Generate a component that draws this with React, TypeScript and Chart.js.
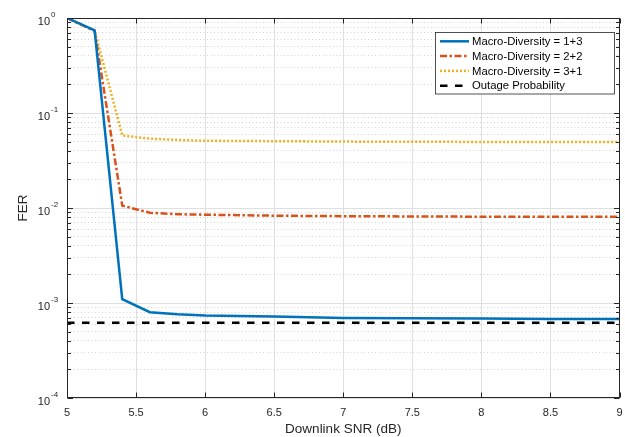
import React, { useEffect, useRef } from 'react';
import { Chart, registerables } from 'chart.js';

Chart.register(...registerables);

// ---- data ----
const SNR_DB = [5, 5.2, 5.4, 5.6, 5.8, 6, 6.5, 7, 7.5, 8, 8.5, 9];
const FER_MD_13 = [1, 0.74, 1.1e-3, 8.0e-4, 7.6e-4, 7.4e-4, 7.2e-4, 6.95e-4, 6.9e-4, 6.85e-4, 6.8e-4, 6.8e-4];
const FER_MD_22 = [1, 0.73, 1.06e-2, 8.9e-3, 8.6e-3, 8.5e-3, 8.3e-3, 8.2e-3, 8.15e-3, 8.1e-3, 8.1e-3, 8.1e-3];
const FER_MD_31 = [1, 0.74, 0.058, 0.0537, 0.052, 0.051, 0.0505, 0.05, 0.0498, 0.0496, 0.0495, 0.0495];
const OUTAGE_SNR = [5, 9];
const OUTAGE_PROB = [6.2e-4, 6.2e-4];

const SERIES_LABELS = [
  'Macro-Diversity = 1+3',
  'Macro-Diversity = 2+2',
  'Macro-Diversity = 3+1',
  'Outage Probability',
];

const X_TICKS = [5, 5.5, 6, 6.5, 7, 7.5, 8, 8.5, 9];
const Y_DECADE_EXPONENTS = [-4, -3, -2, -1, 0];
const Y_MINOR_MANTISSAS = [2, 3, 4, 5, 6, 7, 8, 9];

const X_TITLE = 'Downlink SNR (dB)';
const Y_TITLE = 'FER';

// ---- styles ----
const FONT = "'Liberation Sans', Arial, Helvetica, sans-serif";
const AXIS_COLOR = '#262626';
const STYLES = [
  { color: '#0072BD', dash: [] as number[] },
  { color: '#D95319', dash: [7, 2.5, 2.5, 2.5] },
  { color: '#EDB120', dash: [2, 2] },
  { color: '#000000', dash: [7.5, 7.5] },
];

const Y_TICK_VALUES: { value: number; major: boolean }[] = [];
Y_DECADE_EXPONENTS.forEach((e) => {
  Y_TICK_VALUES.push({ value: Math.pow(10, e), major: true });
  if (e < 0) {
    Y_MINOR_MANTISSAS.forEach((m) => Y_TICK_VALUES.push({ value: m * Math.pow(10, e), major: false }));
  }
});
Y_TICK_VALUES.sort((a, b) => a.value - b.value);

const isMajorValue = (v: number) => {
  const l = Math.log10(v);
  return Math.abs(l - Math.round(l)) < 1e-9;
};

const decorPlugin = {
  id: 'matlabDecor',
  afterDraw(chart: any) {
    const { ctx, chartArea } = chart;
    const xs = chart.scales.x;
    const ys = chart.scales.y;
    const L = Math.round(chartArea.left) + 0.5;
    const R = Math.round(chartArea.right) - 0.5;
    const T = Math.round(chartArea.top) + 0.5;
    const B = Math.round(chartArea.bottom) - 0.5;
    ctx.save();
    ctx.setLineDash([]);
    ctx.strokeStyle = AXIS_COLOR;
    ctx.lineWidth = 1;
    // ticks
    ctx.beginPath();
    X_TICKS.forEach((v) => {
      const px = Math.round(xs.getPixelForValue(v)) + 0.5;
      ctx.moveTo(px, B);
      ctx.lineTo(px, B - 5);
      ctx.moveTo(px, T);
      ctx.lineTo(px, T + 5);
    });
    Y_TICK_VALUES.forEach((t) => {
      const py = Math.round(ys.getPixelForValue(t.value)) + 0.5;
      const len = t.major ? 5.5 : 3.5;
      ctx.moveTo(L, py);
      ctx.lineTo(L + len, py);
      ctx.moveTo(R, py);
      ctx.lineTo(R - len, py);
    });
    ctx.stroke();
    // frame
    ctx.strokeRect(L, T, R - L, B - T);

    // y tick labels 10^e
    ctx.fillStyle = AXIS_COLOR;
    ctx.textBaseline = 'middle';
    Y_DECADE_EXPONENTS.forEach((e) => {
      const py = ys.getPixelForValue(Math.pow(10, e));
      ctx.font = `11px ${FONT}`;
      ctx.textAlign = 'right';
      ctx.fillText('10', chartArea.left - 17, py + 4);
      ctx.font = `8px ${FONT}`;
      ctx.textAlign = 'left';
      ctx.fillText(String(e), chartArea.left - 16, py - 3);
    });

    // legend
    const boxRight = Math.round(chartArea.right) - 5.5;
    const boxLeft = boxRight - 179;
    const boxTop = Math.round(chartArea.top) + 14.5;
    const boxBottom = boxTop + 61.5;
    ctx.fillStyle = '#ffffff';
    ctx.fillRect(boxLeft, boxTop, boxRight - boxLeft, boxBottom - boxTop);
    ctx.strokeStyle = AXIS_COLOR;
    ctx.lineWidth = 0.8;
    ctx.strokeRect(boxLeft, boxTop, boxRight - boxLeft, boxBottom - boxTop);
    chart.data.datasets.forEach((ds: any, i: number) => {
      const ry = boxTop + 8.8 + i * 14.8;
      ctx.save();
      ctx.strokeStyle = ds.borderColor;
      ctx.lineWidth = ds.borderWidth;
      ctx.setLineDash(ds.borderDash || []);
      ctx.beginPath();
      ctx.moveTo(boxLeft + 4.5, ry);
      ctx.lineTo(boxLeft + 33.5, ry);
      ctx.stroke();
      ctx.restore();
      ctx.fillStyle = '#000000';
      ctx.font = `11.3px ${FONT}`;
      ctx.textAlign = 'left';
      ctx.textBaseline = 'middle';
      ctx.fillText(ds.label, boxLeft + 36.5, ry + 0.5);
    });
    ctx.restore();
  },
};

export default function App() {
  const canvasRef = useRef<HTMLCanvasElement | null>(null);

  useEffect(() => {
    const canvas = canvasRef.current;
    if (!canvas) return;
    const mk = (xs: number[], ys: number[]) => xs.map((x, i) => ({ x, y: ys[i] }));
    const seriesData = [
      mk(SNR_DB, FER_MD_13),
      mk(SNR_DB, FER_MD_22),
      mk(SNR_DB, FER_MD_31),
      mk(OUTAGE_SNR, OUTAGE_PROB),
    ];
    const chart = new Chart(canvas, {
      type: 'line',
      data: {
        datasets: seriesData.map((d, i) => ({
          label: SERIES_LABELS[i],
          data: d,
          borderColor: STYLES[i].color,
          backgroundColor: STYLES[i].color,
          borderDash: STYLES[i].dash,
          borderWidth: 2.5,
          pointRadius: 0,
          tension: 0,
          fill: false,
        })),
      },
      options: {
        animation: false,
        responsive: true,
        maintainAspectRatio: false,
        parsing: false as any,
        normalized: true,
        layout: { padding: { left: 11, top: 18, right: 5.5, bottom: 0 } },
        plugins: {
          legend: { display: false },
          tooltip: { enabled: false },
        },
        font: { family: FONT },
        scales: {
          x: {
            type: 'linear',
            min: 5,
            max: 9,
            afterBuildTicks: (scale: any) => {
              scale.ticks = X_TICKS.map((v) => ({ value: v }));
            },
            afterFit: (scale: any) => {
              scale.height = 39;
              scale.paddingLeft = 0;
              scale.paddingRight = 0;
            },
            ticks: {
              autoSkip: false,
              maxRotation: 0,
              padding: 8,
              color: AXIS_COLOR,
              font: { family: FONT, size: 11 },
              callback: (v: any) => String(v),
            },
            grid: {
              color: '#dfdfdf',
              lineWidth: 1,
              drawTicks: false,
            },
            border: { display: false },
            title: {
              display: true,
              text: X_TITLE,
              color: AXIS_COLOR,
              font: { family: FONT, size: 13.5 },
              padding: { top: 0, bottom: 0 },
            },
          },
          y: {
            type: 'logarithmic',
            min: 1e-4,
            max: 1,
            afterBuildTicks: (scale: any) => {
              scale.ticks = Y_TICK_VALUES.map((t) => ({ value: t.value, major: t.major }));
            },
            afterFit: (scale: any) => {
              scale.width = 56;
              scale.paddingTop = 0;
              scale.paddingBottom = 0;
            },
            ticks: { display: false, autoSkip: false },
            grid: {
              drawTicks: false,
              lineWidth: 1,
              color: (c: any) => (c.tick && !isMajorValue(c.tick.value) ? '#d2d2d2' : '#dfdfdf'),
            },
            border: {
              display: false,
              dash: (c: any) => (c.tick && !isMajorValue(c.tick.value) ? [1, 2.5] : []),
            },
            title: {
              display: true,
              text: Y_TITLE,
              color: AXIS_COLOR,
              font: { family: FONT, size: 13.5 },
              padding: { top: 4, bottom: 0 },
            },
          },
        },
      } as any,
      plugins: [decorPlugin],
    });
    return () => chart.destroy();
  }, []);

  return (
    <div style={{ position: 'fixed', left: 0, top: 0, width: 625, height: 437, background: '#ffffff' }}>
      <canvas ref={canvasRef} />
    </div>
  );
}
